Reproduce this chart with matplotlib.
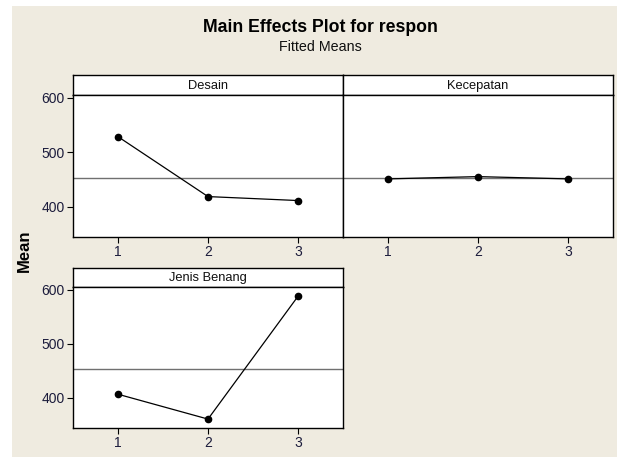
import matplotlib
matplotlib.use("Agg")
import matplotlib.pyplot as plt
from matplotlib.patches import Rectangle

plt.rcParams["font.family"] = ["Liberation Sans", "DejaVu Sans"]

# fitted means per factor level
levels = [1, 2, 3]
factors = ["Desain", "Kecepatan", "Jenis Benang"]
desain = [528.4, 418.3, 411.0]
kecepatan = [450.8, 455.0, 450.8]
jenis_benang = [406.5, 360.5, 587.8]
grand_mean = 452.3
y_ticks = [400, 500, 600]

W, H = 617, 457
bg = "#efebe0"
tick_col = "#1c1c3c"

fig = plt.figure(figsize=(W / 100, H / 100), dpi=100)
fig.patch.set_facecolor("white")
fig.patches.append(Rectangle((12 / W, 0), 1 - 12 / W, 1 - 6 / H,
                             transform=fig.transFigure, facecolor=bg,
                             edgecolor="none", zorder=-10))


def px_axes(x0, y0, x1, y1):
    return fig.add_axes([x0 / W, 1 - y1 / H, (x1 - x0) / W, (y1 - y0) / H])


def panel(x0, x1, top, strip_bottom, bottom, name, values, show_y):
    strip = px_axes(x0, top, x1, strip_bottom)
    strip.set_xticks([])
    strip.set_yticks([])
    strip.set_facecolor("white")
    for s in strip.spines.values():
        s.set_linewidth(1.0)
    strip.text(0.5, 0.47, name, ha="center", va="center", fontsize=9.3,
               color="#101010", transform=strip.transAxes)

    ax = px_axes(x0, strip_bottom, x1, bottom)
    ax.set_facecolor("white")
    ax.set_xlim(0.5, 3.5)
    ax.set_ylim(344, 605)
    for s in ax.spines.values():
        s.set_linewidth(1.0)
    ax.axhline(grand_mean, color="#707070", lw=1.0, zorder=1)
    ax.plot(levels, values, color="black", lw=0.9, marker="o", ms=4.5, zorder=3)
    ax.set_xticks(levels)
    ax.set_xticklabels([str(v) for v in levels])
    if show_y:
        ax.set_yticks(y_ticks)
    else:
        ax.set_yticks([])
    ax.tick_params(direction="out", length=4, width=0.8, colors="black",
                   labelcolor=tick_col, labelsize=10, pad=2)
    return ax


panel(73, 343, 75, 95, 237, factors[0], desain, True)
panel(343, 613, 75, 95, 237, factors[1], kecepatan, False)
panel(73, 343, 268, 287, 428, factors[2], jenis_benang, True)

fig.text(320 / W, 1 - 27 / H, "Main Effects Plot for respon", ha="center",
         va="center", fontsize=12.7, fontweight="bold", color="black")
fig.text(320 / W, 1 - 47 / H, "Fitted Means", ha="center", va="center",
         fontsize=10.3, color="#101010")
fig.text(24 / W, 1 - 251 / H, "Mean", ha="center", va="center", rotation=90,
         fontsize=12, fontweight="bold", color="black")

fig.savefig("out.png", dpi=100, facecolor=fig.get_facecolor())
